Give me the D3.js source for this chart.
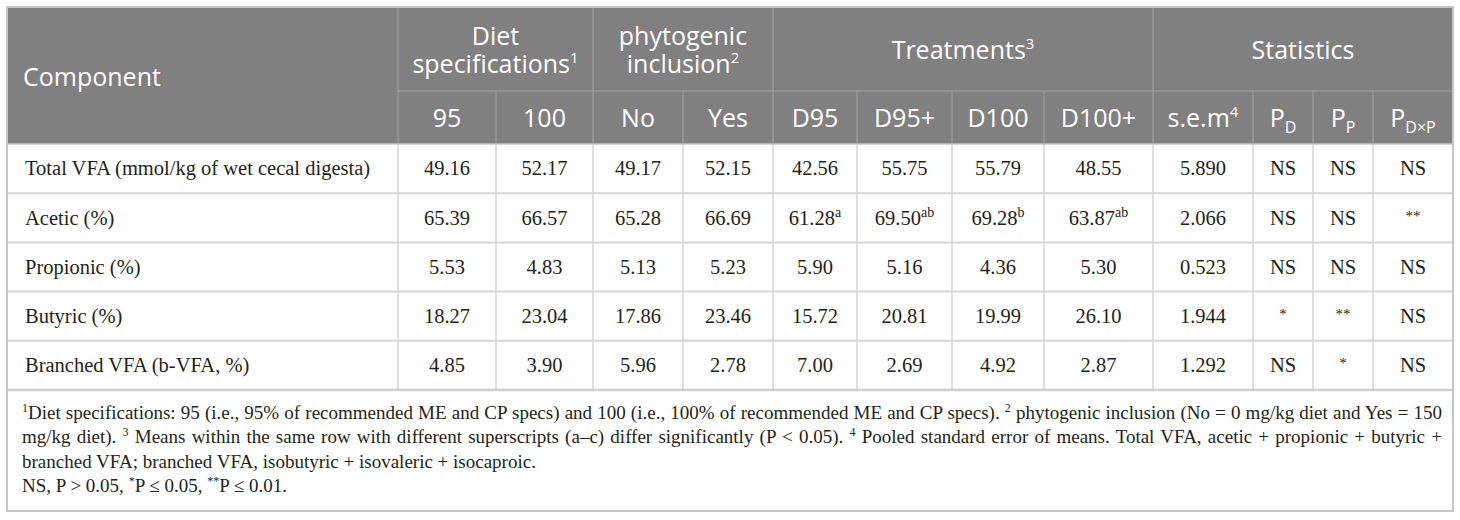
<!DOCTYPE html>
<html>
<head>
<meta charset="utf-8">
<script src="https://cdn.jsdelivr.net/npm/d3@7"></script>
<style>
  body { margin: 0; background: #fff; }
  svg { display: block; }
</style>
</head>
<body>
<div id="table"></div>
<script>
const components = [
  "Total VFA (mmol/kg of wet cecal digesta)",
  "Acetic (%)",
  "Propionic (%)",
  "Butyric (%)",
  "Branched VFA (b-VFA, %)"
];
const diet95   = [49.16, 65.39, 5.53, 18.27, 4.85];
const diet100  = [52.17, 66.57, 4.83, 23.04, 3.90];
const phytoNo  = [49.17, 65.28, 5.13, 17.86, 5.96];
const phytoYes = [52.15, 66.69, 5.23, 23.46, 2.78];
const trtD95   = [42.56, 61.28, 5.90, 15.72, 7.00];
const trtD95p  = [55.75, 69.50, 5.16, 20.81, 2.69];
const trtD100  = [55.79, 69.28, 4.36, 19.99, 4.92];
const trtD100p = [48.55, 63.87, 5.30, 26.10, 2.87];
const semVals  = [5.890, 2.066, 0.523, 1.944, 1.292];
const pDiet    = ["NS", "NS", "NS", "*", "NS"];
const pPhyto   = ["NS", "NS", "NS", "**", "*"];
const pInter   = ["NS", "**", "NS", "NS", "NS"];
// superscript letters on the treatment means (row "Acetic")
const supD95   = ["", "a", "", "", ""];
const supD95p  = ["", "ab", "", "", ""];
const supD100  = ["", "b", "", "", ""];
const supD100p = ["", "ab", "", "", ""];

// header labels: [text, superscript, subscript]
const groupHeaders = [
  { lines: [["Diet"], ["specifications", "1"]], span: [1, 3] },
  { lines: [["phytogenic"], ["inclusion", "2"]], span: [3, 5] },
  { lines: [["Treatments", "3"]], span: [5, 9] },
  { lines: [["Statistics"]], span: [9, 13] }
];
const subHeaders = [
  ["95"], ["100"], ["No"], ["Yes"],
  ["D95"], ["D95+"], ["D100"], ["D100+"],
  ["s.e.m", "4"], ["P", null, "D"], ["P", null, "P"], ["P", null, "D\u00d7P"]
];

// footnote lines: plain strings and {sup: "..."} pieces
const footLines = [
  { justify: true, parts: [{ sup: "1" }, "Diet specifications: 95 (i.e., 95% of recommended ME and CP specs) and 100 (i.e., 100% of recommended ME and CP specs). ", { sup: "2" }, " phytogenic inclusion (No = 0 mg/kg diet and Yes = 150"] },
  { justify: true, parts: ["mg/kg diet). ", { sup: "3" }, " Means within the same row with different superscripts (a\u2013c) differ significantly (P < 0.05). ", { sup: "4" }, " Pooled standard error of means. Total VFA, acetic + propionic + butyric +"] },
  { justify: false, parts: ["branched VFA; branched VFA, isobutyric + isovaleric + isocaproic."] },
  { justify: false, parts: ["NS, P > 0.05, ", { sup: "*" }, "P \u2264 0.05, ", { sup: "**" }, "P \u2264 0.01."] }
];

// ---------------- layout ----------------
const width = 1460, height = 520;
const tableLeft = 7, tableRight = 1453;
const colWidths = [391, 98, 97, 90, 90, 84, 95, 92, 109, 100, 60, 60, 80];
const edges = [tableLeft].concat(Array.from(d3.cumsum(colWidths), v => v + tableLeft));
const headTop = 7, headMid = 91, headBottom = 144, bodyBottom = 390, footBottom = 511;

const headFont = "'Open Sans', 'Noto Sans', sans-serif";
const bodyFont = "'Liberation Serif', 'Times New Roman', serif";
const headSize = 25;
const headBg = "#808080";
const textColor = "#231f20";

const svg = d3.select("#table").append("svg")
  .attr("width", width)
  .attr("height", height);

// row scale for the body rows
const y = d3.scaleBand()
  .domain(components)
  .range([headBottom, bodyBottom]);

const colCenter = j => (edges[j] + edges[j + 1]) / 2;

// header background
svg.append("rect")
  .attr("x", tableLeft).attr("y", headTop)
  .attr("width", tableRight - tableLeft).attr("height", headBottom - headTop)
  .attr("fill", headBg);

// ---------- grid lines ----------
const grid = svg.append("g").attr("fill", "none");

// body horizontal lines
grid.selectAll("line.row")
  .data(components.slice(1))
  .enter().append("line")
  .attr("x1", tableLeft).attr("x2", tableRight)
  .attr("y1", d => y(d)).attr("y2", d => y(d))
  .attr("stroke", "#d4d4d4").attr("stroke-width", 2);

// body vertical lines
grid.selectAll("line.bcol")
  .data(edges.slice(1, -1))
  .enter().append("line")
  .attr("x1", d => d).attr("x2", d => d)
  .attr("y1", headBottom).attr("y2", bodyBottom)
  .attr("stroke", "#d4d4d4").attr("stroke-width", 1.5);

// header lines
const groupEdges = [1, 3, 5, 9];
grid.selectAll("line.hcol")
  .data(d3.range(1, edges.length - 1))
  .enter().append("line")
  .attr("x1", d => edges[d]).attr("x2", d => edges[d])
  .attr("y1", d => groupEdges.includes(d) ? headTop : headMid)
  .attr("y2", headBottom)
  .attr("stroke", "#a3a3a3").attr("stroke-width", 1);

grid.append("line")
  .attr("x1", edges[1]).attr("x2", tableRight)
  .attr("y1", headMid).attr("y2", headMid)
  .attr("stroke", "#a3a3a3").attr("stroke-width", 1);

// header / body and body / footnote separators
grid.append("line")
  .attr("x1", tableLeft).attr("x2", tableRight)
  .attr("y1", headBottom).attr("y2", headBottom)
  .attr("stroke", "#c4c4c4").attr("stroke-width", 1.5);
grid.append("line")
  .attr("x1", tableLeft).attr("x2", tableRight)
  .attr("y1", bodyBottom).attr("y2", bodyBottom)
  .attr("stroke", "#cfcfcf").attr("stroke-width", 2.5);

// outer frame
grid.append("rect")
  .attr("x", tableLeft).attr("y", headTop)
  .attr("width", tableRight - tableLeft).attr("height", footBottom - headTop)
  .attr("stroke", "#c6c6c6").attr("stroke-width", 2);

// ---------- header text ----------
const head = svg.append("g")
  .style("font-family", headFont)
  .style("font-size", headSize + "px")
  .attr("fill", "#fff");

function headLabel(sel, parts, size) {
  sel.append("tspan").text(parts[0]);
  if (parts[1]) {
    sel.append("tspan")
      .attr("baseline-shift", size * 0.4)
      .style("font-size", (size * 0.6) + "px")
      .text(parts[1]);
  }
  if (parts[2]) {
    sel.append("tspan")
      .attr("baseline-shift", -size * 0.24)
      .style("font-size", (size * 0.64) + "px")
      .text(parts[2]);
  }
}

head.append("text")
  .attr("x", 23).attr("y", (headTop + headBottom) / 2 + 2)
  .attr("dy", "0.35em")
  .text("Component");

// group headers: one text element per cell, lines as tspans
groupHeaders.forEach(g => {
  const cx = (edges[g.span[0]] + edges[g.span[1]]) / 2;
  const cy = (headTop + headMid) / 2 + 1;
  const lineGap = 28;
  const t = head.append("text")
    .attr("text-anchor", "middle");
  g.lines.forEach((ln, i) => {
    const row = t.append("tspan")
      .attr("x", cx)
      .attr("y", cy + (i - (g.lines.length - 1) / 2) * lineGap)
      .attr("dy", "0.35em");
    headLabel(row, ln, headSize);
  });
});

subHeaders.forEach((s, i) => {
  const t = head.append("text")
    .attr("x", colCenter(i + 1))
    .attr("y", (headMid + headBottom) / 2 + 1)
    .attr("dy", "0.35em")
    .attr("text-anchor", "middle");
  headLabel(t, s, headSize);
});

// ---------- body text ----------
const body = svg.append("g")
  .style("font-family", bodyFont)
  .style("font-size", "20.5px")
  .attr("fill", textColor);

const f2 = d3.format(".2f"), f3 = d3.format(".3f");
const columns = [
  { vals: diet95, fmt: f2 }, { vals: diet100, fmt: f2 },
  { vals: phytoNo, fmt: f2 }, { vals: phytoYes, fmt: f2 },
  { vals: trtD95, fmt: f2, sup: supD95 }, { vals: trtD95p, fmt: f2, sup: supD95p },
  { vals: trtD100, fmt: f2, sup: supD100 }, { vals: trtD100p, fmt: f2, sup: supD100p },
  { vals: semVals, fmt: f3 },
  { vals: pDiet }, { vals: pPhyto }, { vals: pInter }
];

body.selectAll("text.label")
  .data(components)
  .enter().append("text")
  .attr("x", 25)
  .attr("y", d => y(d) + y.bandwidth() / 2)
  .attr("dy", "0.33em")
  .text(d => d);

columns.forEach((col, j) => {
  components.forEach((c, i) => {
    const v = col.vals[i];
    const t = body.append("text")
      .attr("x", colCenter(j + 1))
      .attr("y", y(c) + y.bandwidth() / 2)
      .attr("dy", "0.33em")
      .attr("text-anchor", "middle");
    if (typeof v === "number") {
      t.append("tspan").text(col.fmt(v));
      if (col.sup && col.sup[i]) {
        t.append("tspan")
          .attr("baseline-shift", 8)
          .style("font-size", "14px")
          .text(col.sup[i]);
      }
    } else if (v.startsWith("*")) {
      t.style("font-size", "15px").attr("dy", "0.2em").text(v);
    } else {
      t.text(v);
    }
  });
});

// ---------- footnote ----------
const foot = svg.append("g")
  .style("font-family", bodyFont)
  .style("font-size", "19px")
  .attr("fill", textColor);

const footX = 22, footRight = 1442, footY0 = 419, footGap = 24.4;
footLines.forEach((ln, i) => {
  const t = foot.append("text")
    .attr("x", footX)
    .attr("y", footY0 + i * footGap);
  ln.parts.forEach(p => {
    if (typeof p === "string") {
      t.append("tspan").text(p);
    } else {
      t.append("tspan")
        .attr("baseline-shift", 7)
        .style("font-size", "12px")
        .text(p.sup);
    }
  });
  if (ln.justify) {
    const natural = t.node().getComputedTextLength();
    const spaces = ln.parts.filter(p => typeof p === "string")
      .join("").split(" ").length - 1;
    t.attr("word-spacing", (footRight - footX - natural) / spaces);
  }
});
</script>
</body>
</html>
